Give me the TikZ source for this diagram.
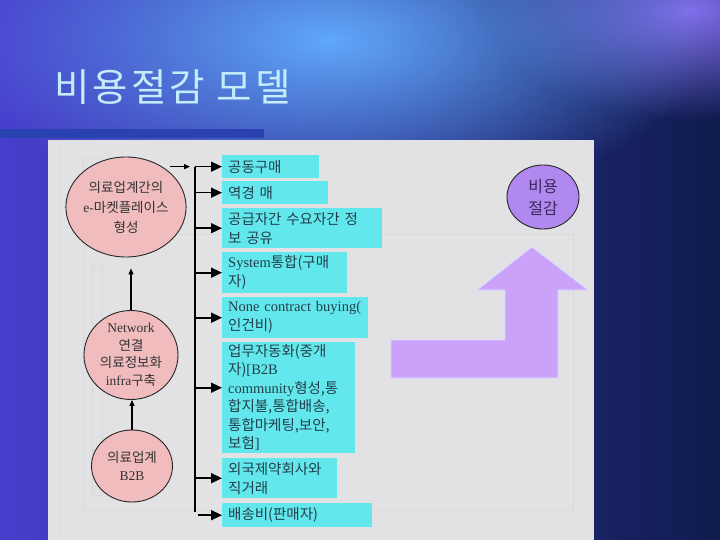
\documentclass[tikz,border=0pt]{standalone}
\usepackage{fontspec}
\setmainfont{Liberation Serif}
\newfontfamily\hangulfont{Noto Sans CJK KR}
\newcommand\hg[1]{{\hangulfont #1}}
\usetikzlibrary{shapes.geometric,arrows.meta,calc,fadings}
\tikzfading[name=glow, inner color=transparent!0, outer color=transparent!100]
\definecolor{boxcyan}{RGB}{98,232,236}
\definecolor{boxtext}{RGB}{35,62,75}
\definecolor{pinkfill}{RGB}{240,188,190}
\definecolor{violetfill}{RGB}{176,136,240}
\definecolor{lilac}{RGB}{202,162,250}
\definecolor{marble}{RGB}{226,226,229}
\definecolor{titlecyan}{RGB}{196,236,250}
\definecolor{barblue}{RGB}{42,66,176}
\definecolor{skyblue}{RGB}{96,168,250}
\definecolor{haze}{RGB}{130,110,235}

\begin{document}
\begin{tikzpicture}[x=1pt,y=-1pt,
    item/.style={fill=boxcyan, anchor=north west, align=left, text=boxtext,
      inner xsep=6pt, inner ysep=1pt, font=\fontsize{14.5}{19}\selectfont},
    stage/.style={ellipse, draw=black!85, line width=0.9pt, fill=pinkfill,
      inner sep=0pt, align=center, text=black!80},
    feed/.style={-{Triangle[length=11pt,width=10pt]}, line width=1.6pt},
    lift/.style={-{Triangle[length=6pt,width=5pt]}, line width=1.2pt},
    ghost/.style={draw=gray!30, line width=0.7pt}]
    \useasboundingbox (0,0) rectangle (720,540);
    % background
    \shade [left color={rgb,255:red,72;green,62;blue,205}, middle color={rgb,255:red,45;green,72;blue,188},
      right color={rgb,255:red,15;green,28;blue,78}] (0,0) rectangle (720,540);
    \fill [haze, path fading=glow] (690,10) ellipse (200pt and 110pt);
    \fill [skyblue, path fading=glow] (330,40) ellipse (380pt and 170pt);
    \fill [barblue] (0,129) rectangle (264,138);
    \fill [marble] (48,140) rectangle (594,540);
    \draw [ghost] (60,146) -- (60,534);
    \draw [ghost] (83,510) -- (83,158) -- (104,158);
    \draw [ghost] (83,234) -- (573,234) -- (573,510) -- (83,510);
    \draw [ghost] (92,265) rectangle (102,495);
    \node [anchor=west, text=titlecyan, font=\hangulfont\fontsize{38.5}{40}\selectfont] (title) at (51,87)
      {비\kern3pt 용\kern3pt 절\kern3pt 감\kern3pt\ 모\kern3pt 델};
    % left stages
    \node [stage, minimum width=106pt, minimum height=100pt, font=\fontsize{13.5}{20}\selectfont] (e1) at (126,207)
      {\hg{의료업계간의}\\e-\hg{마켓플레이스}\\\hg{형성}};
    \node [stage, minimum width=94pt, minimum height=84pt, font=\fontsize{13.5}{17.5}\selectfont] (e2) at (131,355)
      {Network\\\hg{연결}\\\hg{의료정보화}\\infra\hg{구축}};
    \node [stage, minimum width=81pt, minimum height=72pt, font=\fontsize{13.5}{17.5}\selectfont] (e3) at (132,466)
      {\hg{의료업계}\\B2B};
    \draw [lift, shorten >=11pt] (e2.north) -- (e2.north |- e1.south);
    \draw [lift] (e3.north) -- (e3.north |- e2.south);
    % items
    \node [item, text width=85pt, minimum height=23pt] (b1) at (222,155) {\hg{공동구매}};
    \node [item, text width=94pt, minimum height=23pt] (b2) at (222,181) {\hg{역경 매}};
    \node [item, text width=148pt, minimum height=40pt] (b3) at (222,208) {\hg{공급자간 수요자간 정}\\\hg{보 공유}};
    \node [item, text width=113pt, minimum height=41pt] (b4) at (222,252) {System\hg{통합(구매}\\\hg{자)}};
    \node [item, text width=134pt, minimum height=41pt] (b5) at (222,297) {None contract buying(\\\hg{인건비)}};
    \node [item, text width=121pt, minimum height=111pt, font=\fontsize{14.5}{18.5}\selectfont] (b6) at (222,342)
      {\hg{업무자동화(중개}\\\hg{자)}[B2B\\community\hg{형성,통}\\\hg{합지불,통합배송,}\\\hg{통합마케팅,보안,}\\\hg{보험}]};
    \node [item, text width=103pt, minimum height=40pt] (b7) at (222,458) {\hg{외국제약회사와}\\\hg{직거래}};
    \node [item, text width=138pt, minimum height=24pt] (b8) at (222,503) {\hg{배송비(판매자)}};
    % bus
    \path (b1.west) ++(-27,0) coordinate (bustop);
    \coordinate (busbot) at (195,512);
    \draw [line width=1.6pt] (bustop) -- (busbot);
    \draw [lift, shorten <=8pt, shorten >=5pt] (e1.48) -- (e1.48 -| bustop);
    \foreach \b in {b1,b2,b3,b4,b5,b7}
      \draw [feed] (\b.west -| bustop) -- (\b.west);
    \draw [feed] ($(b6.west -| bustop)+(0,-10)$) -- ($(b6.west)+(0,-10)$);
    \draw [feed] ($(b8.west -| bustop)+(3,0)$) -- (b8.west);
    % result
    \node [ellipse, draw=black!85, line width=0.9pt, fill=violetfill, minimum width=72pt, minimum height=64pt,
      inner sep=0pt, align=center, text={rgb,255:red,60;green,40;blue,90},
      font=\hangulfont\fontsize{16}{22}\selectfont] (goal) at (543,197) {비용\\절감};
    \fill [lilac, draw=blue!15, line width=0.8pt] (391,340) -- (505,340) -- (505,290) -- (477,290) -- (532,247)
      -- (588,290) -- (558,290) -- (558,378) -- (391,378) -- cycle;
\end{tikzpicture}
\end{document}
